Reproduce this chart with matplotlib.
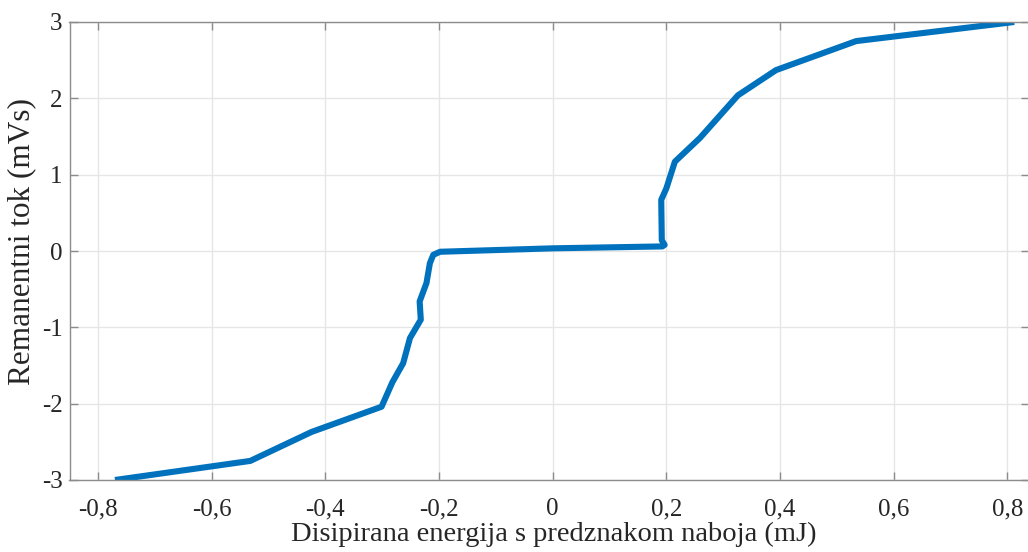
import numpy as np
from matplotlib import pyplot as plt

# curve (energy in mJ, flux in mVs)
energy = [-0.770, -0.532, -0.424, -0.301, -0.282, -0.263, -0.251, -0.232,
          -0.234, -0.222, -0.216, -0.210, -0.198, 0.0, 0.193, 0.197,
          0.192, 0.191, 0.200, 0.215, 0.259, 0.326, 0.393, 0.534, 0.812]
flux = [-3.00, -2.75, -2.37, -2.04, -1.72, -1.47, -1.14, -0.90,
        -0.66, -0.42, -0.16, -0.05, -0.01, 0.035, 0.06, 0.08,
        0.14, 0.67, 0.82, 1.17, 1.48, 2.04, 2.37, 2.75, 3.00]

xticks = [-0.8, -0.6, -0.4, -0.2, 0, 0.2, 0.4, 0.6, 0.8]
xlabels = ['-0,8', '-0,6', '-0,4', '-0,2', '0', '0,2', '0,4', '0,6', '0,8']
yticks = [-3, -2, -1, 0, 1, 2, 3]
ylabels = ['-3', '-2', '-1', '0', '1', '2', '3']

plt.rcParams['font.family'] = ['Liberation Serif', 'DejaVu Serif']

fig = plt.figure(figsize=(10.28, 5.52), dpi=100)
ax = fig.add_axes([69.5 / 1028, 1 - 480 / 552, (1029 - 69.5) / 1028, (480 - 22) / 552])

ax.plot(energy, flux, color='#0072BD', linewidth=4.4, solid_joinstyle='round',
        solid_capstyle='butt')

ax.set_xlim(-0.85, 0.838)
ax.set_ylim(-3, 3)
ax.set_xticks(xticks)
ax.set_xticklabels(xlabels)
ax.set_yticks(yticks)
ax.set_yticklabels(ylabels)

ax.grid(True, color='#e6e6e6', linewidth=1.0)
ax.set_axisbelow(True)
for s in ax.spines.values():
    s.set_color('#8c8c8c')
    s.set_linewidth(1.0)
ax.tick_params(direction='in', length=6, width=1.0, color='#8c8c8c',
               labelsize=18, labelcolor='#262626', top=True, right=True)
ax.tick_params(axis='x', pad=13)
ax.tick_params(axis='y', pad=5)

ax.set_xlabel('Disipirana energija s predznakom naboja (mJ)', fontsize=20.5,
              color='#262626', labelpad=1)
ax.set_ylabel('Remanentni tok (mVs)', fontsize=22.5, color='#262626', labelpad=4)
ax.xaxis.label.set_x(0.505)
ax.yaxis.label.set_y(0.52)

fig.savefig('out.png', dpi=100)
